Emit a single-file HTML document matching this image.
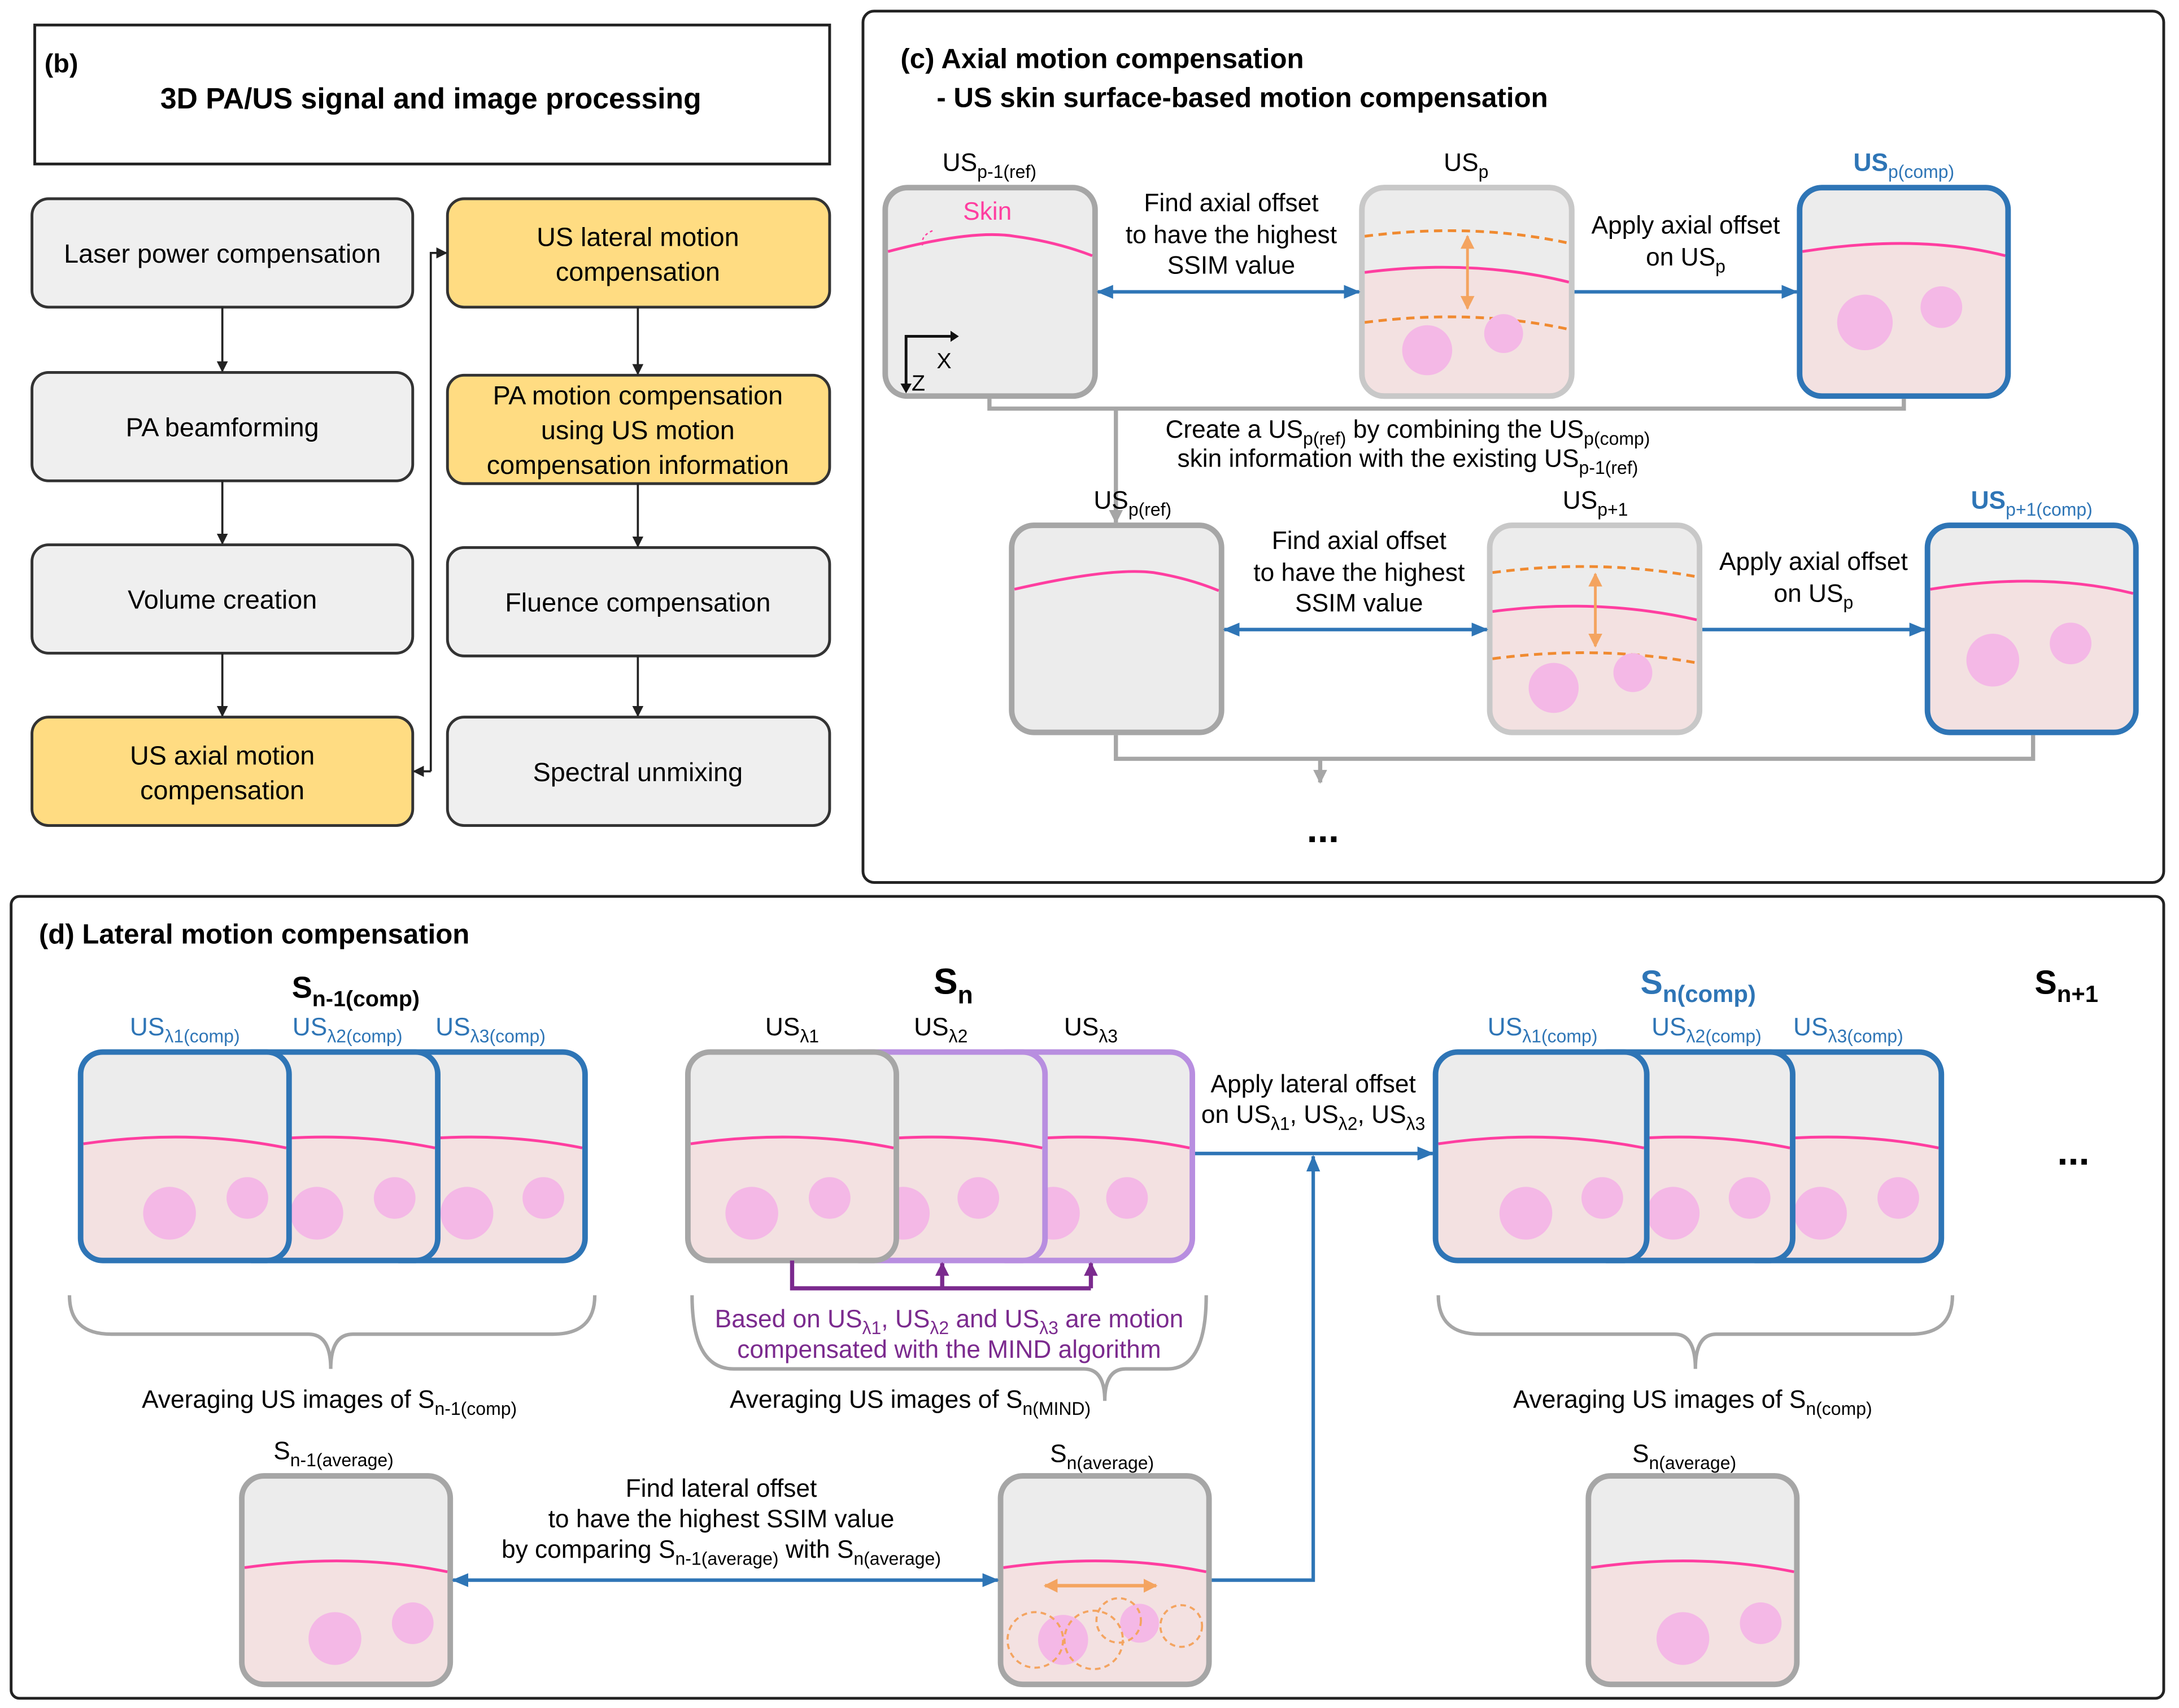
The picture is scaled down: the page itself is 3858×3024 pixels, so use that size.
<!DOCTYPE html>
<html><head><meta charset="utf-8"><style>
html,body{margin:0;padding:0;background:#fff}
svg{display:block}
text{font-family:"Liberation Sans",Arial,sans-serif}
</style></head><body>
<svg width="3858" height="3024" viewBox="0 0 1568 1229" preserveAspectRatio="none" xmlns="http://www.w3.org/2000/svg">
<defs>
<marker id="ak" markerWidth="8" markerHeight="8" refX="7" refY="4" orient="auto" markerUnits="userSpaceOnUse"><path d="M0,0 L8,4 L0,8 Z" fill="#222"/></marker>
<marker id="ab" markerWidth="12" markerHeight="10" refX="11" refY="5" orient="auto-start-reverse" markerUnits="userSpaceOnUse"><path d="M0,0 L12,5 L0,10 Z" fill="#2e75b6"/></marker>
<marker id="ag" markerWidth="10" markerHeight="10" refX="9" refY="5" orient="auto" markerUnits="userSpaceOnUse"><path d="M0,0 L10,5 L0,10 Z" fill="#a6a6a6"/></marker>
<marker id="ap" markerWidth="10" markerHeight="10" refX="9" refY="5" orient="auto" markerUnits="userSpaceOnUse"><path d="M0,0 L10,5 L0,10 Z" fill="#7b2a8e"/></marker>
<marker id="ao" markerWidth="10" markerHeight="10" refX="9" refY="5" orient="auto-start-reverse" markerUnits="userSpaceOnUse"><path d="M0,0 L10,5 L0,10 Z" fill="#f4a460"/></marker>
</defs>

<!-- (b) -->
<rect x="25" y="18" width="572" height="100" fill="#fff" stroke="#222" stroke-width="2"/>
<text x="32" y="52" font-size="19" font-weight="bold">(b)</text>
<text x="310" y="78" font-size="21" font-weight="bold" text-anchor="middle">3D PA/US signal and image processing</text>
<g stroke="#333" stroke-width="2">
<rect x="23" y="143" width="274" height="78" rx="12" fill="#efefef"/>
<rect x="23" y="268" width="274" height="78" rx="12" fill="#efefef"/>
<rect x="23" y="392" width="274" height="78" rx="12" fill="#efefef"/>
<rect x="23" y="516" width="274" height="78" rx="12" fill="#ffdc82"/>
<rect x="322" y="143" width="275" height="78" rx="12" fill="#ffdc82"/>
<rect x="322" y="270" width="275" height="78" rx="12" fill="#ffdc82"/>
<rect x="322" y="394" width="275" height="78" rx="12" fill="#efefef"/>
<rect x="322" y="516" width="275" height="78" rx="12" fill="#efefef"/>
</g>
<g font-size="19" text-anchor="middle">
<text x="160" y="189">Laser power compensation</text>
<text x="160" y="314">PA beamforming</text>
<text x="160" y="438">Volume creation</text>
<text x="160" y="550">US axial motion</text><text x="160" y="575">compensation</text>
<text x="459" y="177">US lateral motion</text><text x="459" y="202">compensation</text>
<text x="459" y="291">PA motion compensation</text><text x="459" y="316">using US motion</text><text x="459" y="341">compensation information</text>
<text x="459" y="440">Fluence compensation</text>
<text x="459" y="562">Spectral unmixing</text>
</g>
<g stroke="#222" stroke-width="1.5" fill="none" marker-end="url(#ak)">
<line x1="160" y1="221" x2="160" y2="267"/>
<line x1="160" y1="346" x2="160" y2="391"/>
<line x1="160" y1="470" x2="160" y2="515"/>
<line x1="459" y1="221" x2="459" y2="269"/>
<line x1="459" y1="348" x2="459" y2="393"/>
<line x1="459" y1="472" x2="459" y2="515"/>
<polyline points="310,555 310,182 321,182"/>
<polyline points="310,555 298,555"/>
</g>

<!-- (c) -->
<rect x="621" y="8" width="936" height="627" rx="8" fill="none" stroke="#222" stroke-width="2"/>
<text x="648" y="49" font-size="20" font-weight="bold">(c) Axial motion compensation</text>
<text x="674" y="77" font-size="20" font-weight="bold">- US skin surface-based motion compensation</text>

<!-- card1 -->
<rect x="637" y="135" width="151" height="150" rx="16" fill="#ececec" stroke="#a6a6a6" stroke-width="4"/>
<path d="M639,181 Q700,165 730,170 Q760,174 786,184" fill="none" stroke="#ff3ea0" stroke-width="2"/>
<text x="693" y="158" font-size="18" fill="#ff3ea0">Skin</text>
<path d="M671,166 Q662,170 664,177" fill="none" stroke="#ff3ea0" stroke-width="1" stroke-dasharray="2,2"/>
<path d="M652,279 V242 H684" fill="none" stroke="#111" stroke-width="2"/>
<path d="M684,238 L690,242 L684,246Z M648,276 L652,283 L656,276Z" fill="#111"/>
<text x="674" y="265" font-size="16">X</text><text x="656" y="281" font-size="16">Z</text>

<!-- card2 -->
<rect x="980" y="135" width="151" height="150" rx="16" fill="#f3e1e1" stroke="#c8c8c8" stroke-width="4"/>
<path d="M982,153 Q982,137 998,137 H1113 Q1129,137 1129,153 V203 Q1080,188 982,195Z" fill="#ececec"/>
<path d="M982,196 Q1060,186 1129,203" fill="none" stroke="#ff3ea0" stroke-width="2"/>
<path d="M982,170 Q1060,160 1129,175" fill="none" stroke="#f08a30" stroke-width="2" stroke-dasharray="6,4"/>
<path d="M982,232 Q1060,222 1129,237" fill="none" stroke="#f08a30" stroke-width="2" stroke-dasharray="6,4"/>
<circle cx="1027" cy="252" r="18" fill="#f4b8e6"/><circle cx="1082" cy="240" r="14" fill="#f4b8e6"/>
<line x1="1056" y1="170" x2="1056" y2="222" stroke="#f4a460" stroke-width="2" marker-end="url(#ao)" marker-start="url(#ao)"/>
<rect x="980" y="135" width="151" height="150" rx="16" fill="none" stroke="#c8c8c8" stroke-width="4"/>

<!-- card3 -->
<rect x="1295" y="135" width="150" height="150" rx="16" fill="#f3e1e1"/>
<path d="M1297,153 Q1297,137 1313,137 H1427 Q1443,137 1443,153 V184 Q1390,168 1297,181Z" fill="#ececec"/>
<path d="M1297,181 Q1380,168 1443,184" fill="none" stroke="#ff3ea0" stroke-width="2"/>
<circle cx="1342" cy="232" r="20" fill="#f4b8e6"/><circle cx="1397" cy="221" r="15" fill="#f4b8e6"/>
<rect x="1295" y="135" width="150" height="150" rx="16" fill="none" stroke="#2e75b6" stroke-width="4"/>

<g font-size="18" text-anchor="middle">
<text x="712" y="123">US<tspan font-size="13" dy="5">p-1(ref)</tspan></text>
<text x="1055" y="123">US<tspan font-size="13" dy="5">p</tspan></text>
<text x="1370" y="123" fill="#2e75b6" font-weight="bold">US<tspan font-size="13" dy="5" font-weight="normal">p(comp)</tspan></text>
<text x="886" y="152">Find axial offset</text><text x="886" y="175">to have the highest</text><text x="886" y="197">SSIM value</text>
<text x="1213" y="168">Apply axial offset</text><text x="1213" y="191">on US<tspan font-size="13" dy="5">p</tspan></text>
<text x="1013" y="315">Create a US<tspan font-size="13" dy="5">p(ref)</tspan><tspan dy="-5"> by combining the US</tspan><tspan font-size="13" dy="5">p(comp)</tspan></text>
<text x="1013" y="336">skin information with the existing US<tspan font-size="13" dy="5">p-1(ref)</tspan></text>
</g>
<line x1="790" y1="210" x2="978" y2="210" stroke="#2e75b6" stroke-width="2.5" marker-start="url(#ab)" marker-end="url(#ab)"/>
<line x1="1133" y1="210" x2="1293" y2="210" stroke="#2e75b6" stroke-width="2.5" marker-end="url(#ab)"/>
<polyline points="712,287 712,294 1370,294 1370,287" fill="none" stroke="#a6a6a6" stroke-width="3"/>
<line x1="803" y1="294" x2="803" y2="376" stroke="#a6a6a6" stroke-width="3" marker-end="url(#ag)"/>

<!-- row2 -->
<rect x="728" y="378" width="151" height="149" rx="16" fill="#ececec" stroke="#a6a6a6" stroke-width="4"/>
<path d="M730,424 Q800,408 830,412 Q855,416 877,425" fill="none" stroke="#ff3ea0" stroke-width="2"/>

<rect x="1072" y="378" width="151" height="149" rx="16" fill="#f3e1e1"/>
<path d="M1074,394 Q1074,380 1090,380 H1205 Q1221,380 1221,394 V446 Q1170,431 1074,440Z" fill="#ececec"/>
<path d="M1074,440 Q1150,430 1221,446" fill="none" stroke="#ff3ea0" stroke-width="2"/>
<path d="M1074,412 Q1150,402 1221,415" fill="none" stroke="#f08a30" stroke-width="2" stroke-dasharray="6,4"/>
<path d="M1074,474 Q1150,464 1221,477" fill="none" stroke="#f08a30" stroke-width="2" stroke-dasharray="6,4"/>
<circle cx="1118" cy="495" r="18" fill="#f4b8e6"/><circle cx="1175" cy="484" r="14" fill="#f4b8e6"/>
<line x1="1148" y1="413" x2="1148" y2="465" stroke="#f4a460" stroke-width="2" marker-end="url(#ao)" marker-start="url(#ao)"/>
<rect x="1072" y="378" width="151" height="149" rx="16" fill="none" stroke="#c8c8c8" stroke-width="4"/>

<rect x="1387" y="378" width="150" height="149" rx="16" fill="#f3e1e1"/>
<path d="M1389,394 Q1389,380 1405,380 H1519 Q1535,380 1535,394 V427 Q1480,411 1389,424Z" fill="#ececec"/>
<path d="M1389,424 Q1470,411 1535,427" fill="none" stroke="#ff3ea0" stroke-width="2"/>
<circle cx="1434" cy="475" r="19" fill="#f4b8e6"/><circle cx="1490" cy="463" r="15" fill="#f4b8e6"/>
<rect x="1387" y="378" width="150" height="149" rx="16" fill="none" stroke="#2e75b6" stroke-width="4"/>

<g font-size="18" text-anchor="middle">
<text x="815" y="366">US<tspan font-size="13" dy="5">p(ref)</tspan></text>
<text x="1148" y="366">US<tspan font-size="13" dy="5">p+1</tspan></text>
<text x="1462" y="366" fill="#2e75b6" font-weight="bold">US<tspan font-size="13" dy="5" font-weight="normal">p+1(comp)</tspan></text>
<text x="978" y="395">Find axial offset</text><text x="978" y="418">to have the highest</text><text x="978" y="440">SSIM value</text>
<text x="1305" y="410">Apply axial offset</text><text x="1305" y="433">on US<tspan font-size="13" dy="5">p</tspan></text>
</g>
<line x1="881" y1="453" x2="1070" y2="453" stroke="#2e75b6" stroke-width="2.5" marker-start="url(#ab)" marker-end="url(#ab)"/>
<line x1="1225" y1="453" x2="1385" y2="453" stroke="#2e75b6" stroke-width="2.5" marker-end="url(#ab)"/>
<polyline points="803,529 803,546 1463,546 1463,529" fill="none" stroke="#a6a6a6" stroke-width="3"/>
<line x1="950" y1="546" x2="950" y2="563" stroke="#a6a6a6" stroke-width="3" marker-end="url(#ag)"/>
<text x="952" y="606" font-size="28" font-weight="bold" text-anchor="middle">...</text>

<!-- (d) -->
<rect x="8" y="645" width="1549" height="577" rx="6" fill="none" stroke="#222" stroke-width="2"/>
<text x="28" y="679" font-size="20" font-weight="bold">(d) Lateral motion compensation</text>

<!-- group 1 cards (right drawn first) -->
<g>
<rect x="271" y="757" width="150" height="150" rx="16" fill="#f3e1e1"/><path d="M273,773 Q273,759 289,759 H403 Q419,759 419,773 V826 Q360,812 273,823Z" fill="#ececec"/><path d="M273,823 Q350,812 419,826" fill="none" stroke="#ff3ea0" stroke-width="2"/><circle cx="336" cy="873" r="19" fill="#f4b8e6"/><circle cx="391" cy="862" r="15" fill="#f4b8e6"/><rect x="271" y="757" width="150" height="150" rx="16" fill="none" stroke="#2e75b6" stroke-width="4"/>
<rect x="165" y="757" width="150" height="150" rx="16" fill="#f3e1e1"/><path d="M167,773 Q167,759 183,759 H297 Q313,759 313,773 V826 Q254,812 167,823Z" fill="#ececec"/><path d="M167,823 Q244,812 313,826" fill="none" stroke="#ff3ea0" stroke-width="2"/><circle cx="228" cy="873" r="19" fill="#f4b8e6"/><circle cx="284" cy="862" r="15" fill="#f4b8e6"/><rect x="165" y="757" width="150" height="150" rx="16" fill="none" stroke="#2e75b6" stroke-width="4"/>
<rect x="58" y="757" width="150" height="150" rx="16" fill="#f3e1e1"/><path d="M60,773 Q60,759 76,759 H190 Q206,759 206,773 V826 Q147,812 60,823Z" fill="#ececec"/><path d="M60,823 Q137,812 206,826" fill="none" stroke="#ff3ea0" stroke-width="2"/><circle cx="122" cy="873" r="19" fill="#f4b8e6"/><circle cx="178" cy="862" r="15" fill="#f4b8e6"/><rect x="58" y="757" width="150" height="150" rx="16" fill="none" stroke="#2e75b6" stroke-width="4"/>
</g>
<!-- group 2 -->
<g>
<rect x="708" y="757" width="150" height="150" rx="16" fill="#f3e1e1"/><path d="M710,773 Q710,759 726,759 H840 Q856,759 856,773 V826 Q797,812 710,823Z" fill="#ececec"/><path d="M710,823 Q787,812 856,826" fill="none" stroke="#ff3ea0" stroke-width="2"/><circle cx="758" cy="873" r="19" fill="#f4b8e6"/><circle cx="811" cy="862" r="15" fill="#f4b8e6"/><rect x="708" y="757" width="150" height="150" rx="16" fill="none" stroke="#b88ee0" stroke-width="4"/>
<rect x="602" y="757" width="150" height="150" rx="16" fill="#f3e1e1"/><path d="M604,773 Q604,759 620,759 H734 Q750,759 750,773 V826 Q691,812 604,823Z" fill="#ececec"/><path d="M604,823 Q681,812 750,826" fill="none" stroke="#ff3ea0" stroke-width="2"/><circle cx="650" cy="873" r="19" fill="#f4b8e6"/><circle cx="704" cy="862" r="15" fill="#f4b8e6"/><rect x="602" y="757" width="150" height="150" rx="16" fill="none" stroke="#b88ee0" stroke-width="4"/>
<rect x="495" y="757" width="150" height="150" rx="16" fill="#f3e1e1"/><path d="M497,773 Q497,759 513,759 H627 Q643,759 643,773 V826 Q584,812 497,823Z" fill="#ececec"/><path d="M497,823 Q574,812 643,826" fill="none" stroke="#ff3ea0" stroke-width="2"/><circle cx="541" cy="873" r="19" fill="#f4b8e6"/><circle cx="597" cy="862" r="15" fill="#f4b8e6"/><rect x="495" y="757" width="150" height="150" rx="16" fill="none" stroke="#a6a6a6" stroke-width="4"/>
</g>
<!-- group 3 -->
<g>
<rect x="1247" y="757" width="150" height="150" rx="16" fill="#f3e1e1"/><path d="M1249,773 Q1249,759 1265,759 H1379 Q1395,759 1395,773 V826 Q1336,812 1249,823Z" fill="#ececec"/><path d="M1249,823 Q1326,812 1395,826" fill="none" stroke="#ff3ea0" stroke-width="2"/><circle cx="1310" cy="873" r="19" fill="#f4b8e6"/><circle cx="1366" cy="862" r="15" fill="#f4b8e6"/><rect x="1247" y="757" width="150" height="150" rx="16" fill="none" stroke="#2e75b6" stroke-width="4"/>
<rect x="1140" y="757" width="150" height="150" rx="16" fill="#f3e1e1"/><path d="M1142,773 Q1142,759 1158,759 H1272 Q1288,759 1288,773 V826 Q1229,812 1142,823Z" fill="#ececec"/><path d="M1142,823 Q1219,812 1288,826" fill="none" stroke="#ff3ea0" stroke-width="2"/><circle cx="1204" cy="873" r="19" fill="#f4b8e6"/><circle cx="1259" cy="862" r="15" fill="#f4b8e6"/><rect x="1140" y="757" width="150" height="150" rx="16" fill="none" stroke="#2e75b6" stroke-width="4"/>
<rect x="1033" y="757" width="152" height="150" rx="16" fill="#f3e1e1"/><path d="M1035,773 Q1035,759 1051,759 H1167 Q1183,759 1183,773 V826 Q1124,812 1035,823Z" fill="#ececec"/><path d="M1035,823 Q1112,812 1183,826" fill="none" stroke="#ff3ea0" stroke-width="2"/><circle cx="1098" cy="873" r="19" fill="#f4b8e6"/><circle cx="1153" cy="862" r="15" fill="#f4b8e6"/><rect x="1033" y="757" width="152" height="150" rx="16" fill="none" stroke="#2e75b6" stroke-width="4"/>
</g>

<g font-size="18" text-anchor="middle">
<text x="256" y="718" font-size="22" font-weight="bold">S<tspan font-size="16" dy="6">n-1(comp)</tspan></text>
<text x="686" y="715" font-size="26" font-weight="bold">S<tspan font-size="18" dy="7">n</tspan></text>
<text x="1222" y="715" font-size="24" font-weight="bold" fill="#2e75b6">S<tspan font-size="17" dy="6">n(comp)</tspan></text>
<text x="1487" y="715" font-size="24" font-weight="bold">S<tspan font-size="17" dy="6">n+1</tspan></text>
<g fill="#2e75b6">
<text x="133" y="745">US<tspan font-size="13" dy="5">λ1(comp)</tspan></text>
<text x="250" y="745">US<tspan font-size="13" dy="5">λ2(comp)</tspan></text>
<text x="353" y="745">US<tspan font-size="13" dy="5">λ3(comp)</tspan></text>
<text x="1110" y="745">US<tspan font-size="13" dy="5">λ1(comp)</tspan></text>
<text x="1228" y="745">US<tspan font-size="13" dy="5">λ2(comp)</tspan></text>
<text x="1330" y="745">US<tspan font-size="13" dy="5">λ3(comp)</tspan></text>
</g>
<text x="570" y="745">US<tspan font-size="13" dy="5">λ1</tspan></text>
<text x="677" y="745">US<tspan font-size="13" dy="5">λ2</tspan></text>
<text x="785" y="745">US<tspan font-size="13" dy="5">λ3</tspan></text>
<text x="945" y="786">Apply lateral offset</text>
<text x="945" y="808">on US<tspan font-size="13" dy="5">λ1</tspan><tspan dy="-5">, US</tspan><tspan font-size="13" dy="5">λ2</tspan><tspan dy="-5">, US</tspan><tspan font-size="13" dy="5">λ3</tspan></text>
<g fill="#7b2a8e">
<text x="683" y="955">Based on US<tspan font-size="13" dy="5">λ1</tspan><tspan dy="-5">, US</tspan><tspan font-size="13" dy="5">λ2</tspan><tspan dy="-5"> and US</tspan><tspan font-size="13" dy="5">λ3</tspan><tspan dy="-5"> are motion</tspan></text>
<text x="683" y="977">compensated with the MIND algorithm</text>
</g>
<text x="237" y="1013">Averaging US images of S<tspan font-size="13" dy="5">n-1(comp)</tspan></text>
<text x="655" y="1013">Averaging US images of S<tspan font-size="13" dy="5">n(MIND)</tspan></text>
<text x="1218" y="1013">Averaging US images of S<tspan font-size="13" dy="5">n(comp)</tspan></text>
<text x="240" y="1050">S<tspan font-size="13" dy="5">n-1(average)</tspan></text>
<text x="793" y="1052">S<tspan font-size="13" dy="5">n(average)</tspan></text>
<text x="1212" y="1052">S<tspan font-size="13" dy="5">n(average)</tspan></text>
<text x="519" y="1077">Find lateral offset</text>
<text x="519" y="1099">to have the highest SSIM value</text>
<text x="519" y="1121">by comparing S<tspan font-size="13" dy="5">n-1(average)</tspan><tspan dy="-5"> with S</tspan><tspan font-size="13" dy="5">n(average)</tspan></text>
</g>
<text x="1492" y="838" font-size="28" font-weight="bold" text-anchor="middle">...</text>

<!-- purple connectors -->
<polyline points="570,907 570,927 785,927" fill="none" stroke="#7b2a8e" stroke-width="3"/>
<line x1="678" y1="927" x2="678" y2="909" stroke="#7b2a8e" stroke-width="3" marker-end="url(#ap)"/>
<line x1="785" y1="927" x2="785" y2="909" stroke="#7b2a8e" stroke-width="3" marker-end="url(#ap)"/>

<!-- brackets -->
<g fill="none" stroke="#a6a6a6" stroke-width="2.5">
<path d="M50,932 Q50,960 80,960 H222 Q238,960 238,985 Q238,960 254,960 H398 Q428,960 428,932"/>
<path d="M498,932 Q498,985 528,985 H780 Q795,985 795,1008 Q795,985 810,985 H840 Q868,985 868,932"/>
<path d="M1035,932 Q1035,960 1065,960 H1205 Q1220,960 1220,985 Q1220,960 1235,960 H1375 Q1405,960 1405,932"/>
</g>

<!-- bottom cards -->
<rect x="174" y="1062" width="150" height="150" rx="16" fill="#f3e1e1"/><path d="M176,1078 Q176,1064 192,1064 H306 Q322,1064 322,1078 V1131 Q263,1117 176,1128Z" fill="#ececec"/><path d="M176,1128 Q253,1117 322,1131" fill="none" stroke="#ff3ea0" stroke-width="2"/><circle cx="241" cy="1179" r="19" fill="#f4b8e6"/><circle cx="297" cy="1168" r="15" fill="#f4b8e6"/><rect x="174" y="1062" width="150" height="150" rx="16" fill="none" stroke="#a6a6a6" stroke-width="4"/>

<rect x="720" y="1062" width="150" height="150" rx="16" fill="#f3e1e1"/><path d="M722,1078 Q722,1064 738,1064 H852 Q868,1064 868,1078 V1131 Q809,1117 722,1128Z" fill="#ececec"/><path d="M722,1128 Q799,1117 868,1131" fill="none" stroke="#ff3ea0" stroke-width="2"/>
<circle cx="765" cy="1180" r="18" fill="#f4b8e6"/><circle cx="820" cy="1168" r="14" fill="#f4b8e6"/>
<g fill="none" stroke="#f4a460" stroke-width="1.5" stroke-dasharray="4,3"><circle cx="745" cy="1180" r="20"/><circle cx="787" cy="1180" r="21"/><circle cx="805" cy="1166" r="16"/><circle cx="850" cy="1170" r="15"/></g>
<line x1="752" y1="1141" x2="832" y2="1141" stroke="#f4a460" stroke-width="2.5" marker-start="url(#ao)" marker-end="url(#ao)"/>
<rect x="720" y="1062" width="150" height="150" rx="16" fill="none" stroke="#a6a6a6" stroke-width="4"/>

<rect x="1143" y="1062" width="150" height="150" rx="16" fill="#f3e1e1"/><path d="M1145,1078 Q1145,1064 1161,1064 H1275 Q1291,1064 1291,1078 V1131 Q1232,1117 1145,1128Z" fill="#ececec"/><path d="M1145,1128 Q1222,1117 1291,1131" fill="none" stroke="#ff3ea0" stroke-width="2"/><circle cx="1211" cy="1179" r="19" fill="#f4b8e6"/><circle cx="1267" cy="1168" r="15" fill="#f4b8e6"/><rect x="1143" y="1062" width="150" height="150" rx="16" fill="none" stroke="#a6a6a6" stroke-width="4"/>

<!-- blue connectors d -->
<line x1="326" y1="1137" x2="718" y2="1137" stroke="#2e75b6" stroke-width="2.5" marker-start="url(#ab)" marker-end="url(#ab)"/>
<polyline points="872,1137 945,1137 945,832" fill="none" stroke="#2e75b6" stroke-width="2.5" marker-end="url(#ab)"/>
<line x1="860" y1="830" x2="1031" y2="830" stroke="#2e75b6" stroke-width="2.5" marker-end="url(#ab)"/>
</svg>
</body></html>
